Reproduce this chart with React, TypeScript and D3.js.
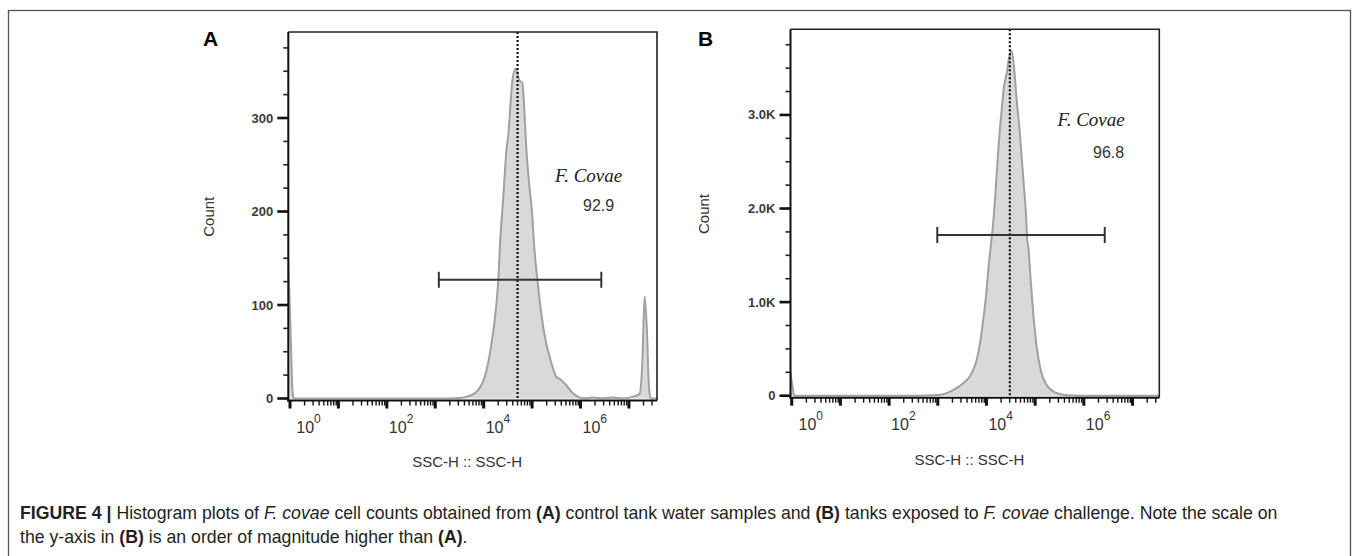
import React, { useLayoutEffect, useRef, useState } from 'react';
import * as d3 from 'd3';

// ---------- DATA ----------
// Panel A (control tank) : SSC-H value and event count
const sscA = [0.92, 1.05, 1.12, 1.2, 1000, 2950, 5180, 7690, 10540, 12360, 14490, 16940, 18920, 19950, 22130, 25180, 29580, 32510, 36310, 39360, 46030, 53830, 63240, 67300, 76380, 89330, 101600, 108100, 128800, 173800, 250600, 317700, 371500, 472100, 699800, 1125000, 1807000, 2884000, 4677000, 7516000, 13120000, 16630000, 18880000, 21090000, 23550000, 25880000, 28050000, 38000000];
const countA = [150, 55, 10, 0, 0, 0.3, 3, 9, 23, 38, 59, 84, 109, 125, 172, 212, 266, 284, 319, 341, 353, 341, 337, 319, 266, 223, 194, 170, 127, 73, 38, 23, 21, 16, 5.6, 0.3, 1, 0.3, 1, 0, 2.5, 5, 38, 109, 73, 13, 0, 0];

// Panel B (F. covae challenge)
const sscB = [0.944, 1.05, 1.12, 398, 813, 1297, 2080, 3342, 4966, 6295, 7362, 8590, 9772, 10890, 12190, 13490, 14960, 17460, 20510, 22860, 26000, 29380, 32890, 36730, 41690, 47210, 52840, 58880, 64710, 68870, 72280, 80910, 91410, 107400, 129700, 172200, 255300, 443600, 794000, 35000000];
const countB = [250, 80, 0, 0, 5, 15, 61, 132, 239, 381, 560, 809, 1058, 1343, 1592, 1800, 2091, 2625, 3052, 3301, 3444, 3622, 3686, 3515, 3159, 2874, 2553, 2233, 1949, 1663, 1592, 1236, 880, 524, 275, 114, 36, 5, 0, 0];

const yTicksA = [0, 100, 200, 300];
const yTickLabelsA = ['0', '100', '200', '300'];
const yTicksB = [0, 1000, 2000, 3000];
const yTickLabelsB = ['0', '1.0K', '2.0K', '3.0K'];

const gateA = { lo: 1186, hi: 2690000, level: 127 };
const gateB = { lo: 977, hi: 2690000, level: 1717 };
const medianA = 50100;
const medianB = 30200;
const populationName = 'F. Covae';
const percentA = '92.9';
const percentB = '96.8';
const xAxisTitle = 'SSC-H :: SSC-H';
const yAxisTitle = 'Count';

// ---------- PANEL ----------
type Cfg = {
  letter: string; letterX: number; letterY: number;
  left: number; right: number; top: number; zeroY: number;
  xDomain: [number, number]; yMax: number; minorStep: number;
  yTicks: number[]; yTickLabels: string[];
  ssc: number[]; counts: number[];
  gate: { lo: number; hi: number; level: number };
  median: number; pct: string;
  nameX: number; nameY: number; pctX: number; pctY: number;
  countX: number; xTitleY: number; xTickLabelY: number;
};

function Panel({ c }: { c: Cfg }) {
  const x = d3.scaleLog().domain(c.xDomain).range([c.left, c.right]);
  const y = d3.scaleLinear().domain([0, c.yMax]).range([c.zeroY, c.top]);
  const axisY = c.zeroY + 2;
  const idx = d3.range(c.ssc.length);
  const area = d3.area<number>()
    .x((i) => x(c.ssc[i]))
    .y0(c.zeroY)
    .y1((i) => y(c.counts[i]))
    .curve(d3.curveMonotoneX);
  const line = d3.line<number>()
    .x((i) => x(c.ssc[i]))
    .y((i) => y(c.counts[i]))
    .curve(d3.curveMonotoneX);
  const clipId = 'clip' + c.letter;
  const xt = x.ticks();
  const isMajor = (v: number) => Math.abs(Math.log10(v) - Math.round(Math.log10(v))) < 1e-6;
  const minorY = d3.range(0, c.yMax, c.minorStep);
  const gx0 = x(c.gate.lo), gx1 = x(c.gate.hi), gy = y(c.gate.level);
  const mx = x(c.median);
  return (
    <g>
      <defs>
        <clipPath id={clipId}>
          <rect x={c.left} y={c.top} width={c.right - c.left} height={c.zeroY - c.top + 1} />
        </clipPath>
      </defs>
      <text x={c.letterX} y={c.letterY} fontFamily="Liberation Sans, Arial, sans-serif" fontWeight="bold" fontSize={21} fill="#000">{c.letter}</text>
      <g clipPath={`url(#${clipId})`}>
        <path d={area(idx) || ''} fill="#d9d9d9" stroke="none" />
        <path d={line(idx) || ''} fill="none" stroke="#a0a0a0" strokeWidth={2} strokeLinejoin="round" />
      </g>
      <line x1={mx} x2={mx} y1={c.top} y2={c.zeroY} stroke="#111" strokeWidth={2.2} strokeDasharray="2,2" />
      <g stroke="#333" strokeWidth={2}>
        <line x1={gx0} x2={gx1} y1={gy} y2={gy} />
        <line x1={gx0} x2={gx0} y1={gy - 8} y2={gy + 8} />
        <line x1={gx1} x2={gx1} y1={gy - 8} y2={gy + 8} />
      </g>
      {/* frame */}
      <path d={`M${c.left},${c.top}H${c.right}V${axisY}`} fill="none" stroke="#222" strokeWidth={1.6} />
      <line x1={c.left} x2={c.left} y1={c.top} y2={axisY + 1} stroke="#111" strokeWidth={2} />
      <line x1={c.left - 1} x2={c.right} y1={axisY} y2={axisY} stroke="#111" strokeWidth={2} />
      {/* y ticks */}
      {minorY.map((v) => (
        <line key={'ym' + v} x1={c.left - 5} x2={c.left} y1={y(v)} y2={y(v)} stroke="#222" strokeWidth={1.6} />
      ))}
      {c.yTicks.map((v, i) => (
        <g key={'yM' + v}>
          <line x1={c.left - 11} x2={c.left} y1={y(v)} y2={y(v)} stroke="#111" strokeWidth={2.6} />
          <text x={c.left - 15} y={y(v)} dy="0.35em" textAnchor="end" fontFamily="Liberation Sans, Arial, sans-serif" fontWeight="bold" fontSize={13} fill="#3a3a3a">{c.yTickLabels[i]}</text>
        </g>
      ))}
      {/* x ticks */}
      {xt.map((v) => {
        const major = isMajor(v);
        return (
          <line key={'x' + v} x1={x(v)} x2={x(v)} y1={axisY} y2={axisY + (major ? 8 : 5)} stroke="#111" strokeWidth={major ? 3 : 1.4} />
        );
      })}
      {xt.filter((v) => isMajor(v) && Math.round(Math.log10(v)) % 2 === 0).map((v) => (
        <text key={'xl' + v} x={Math.max(x(v) + 2, c.left + 8)} y={c.xTickLabelY} fontFamily="Liberation Sans, Arial, sans-serif" fontSize={16} fill="#333">
          10<tspan dy={-10} fontSize={12}>{Math.round(Math.log10(v))}</tspan>
        </text>
      ))}
      <text x={(c.left + c.right) / 2 - 5.5} y={c.xTitleY} textAnchor="middle" fontFamily="Liberation Sans, Arial, sans-serif" fontSize={15} fill="#333">{xAxisTitle}</text>
      <text transform={`translate(${c.countX},${(c.top + c.zeroY) / 2 + 1.5}) rotate(-90)`} textAnchor="middle" dy="0.35em" fontFamily="Liberation Sans, Arial, sans-serif" fontSize={15} fill="#333">{yAxisTitle}</text>
      <text x={c.nameX} y={c.nameY} fontFamily="Liberation Serif, Times New Roman, serif" fontStyle="italic" fontSize={19} fill="#222">{populationName}</text>
      <text x={c.pctX} y={c.pctY} fontFamily="Liberation Sans, Arial, sans-serif" fontSize={16} fill="#333">{c.pct}</text>
    </g>
  );
}

const cfgA: Cfg = {
  letter: 'A', letterX: 203, letterY: 46,
  left: 288.3, right: 657, top: 32, zeroY: 398.5,
  xDomain: [Math.pow(10, -0.035), Math.pow(10, 7.58)], yMax: 392, minorStep: 25,
  yTicks: yTicksA, yTickLabels: yTickLabelsA,
  ssc: sscA, counts: countA, gate: gateA, median: medianA, pct: percentA,
  nameX: 555, nameY: 182, pctX: 583, pctY: 211,
  countX: 209, xTitleY: 467, xTickLabelY: 433,
};
const cfgB: Cfg = {
  letter: 'B', letterX: 698, letterY: 46,
  left: 790.5, right: 1159.3, top: 29.3, zeroY: 395.7,
  xDomain: [Math.pow(10, -0.025), Math.pow(10, 7.55)], yMax: 3915, minorStep: 250,
  yTicks: yTicksB, yTickLabels: yTickLabelsB,
  ssc: sscB, counts: countB, gate: gateB, median: medianB, pct: percentB,
  nameX: 1057.5, nameY: 126, pctX: 1093, pctY: 157.5,
  countX: 704, xTitleY: 465, xTickLabelY: 429.5,
};

function Caption() {
  const ref = useRef<SVGTextElement>(null);
  const [k, setK] = useState(1);
  useLayoutEffect(() => {
    if (ref.current) {
      const len = ref.current.getComputedTextLength();
      if (len > 0) setK(1258 / len);
    }
  }, []);
  const ff = 'Liberation Sans Narrow, Liberation Sans, Arial, sans-serif';
  return (
    <g transform={`translate(20,0) scale(${k},1)`} fontFamily={ff} fontSize={18} fill="#231f20" style={{ whiteSpace: 'pre' }}>
      <text ref={ref} x={0} y={519}>
        <tspan fontWeight="bold">FIGURE 4 | </tspan>
        <tspan>Histogram plots of </tspan>
        <tspan fontStyle="italic">F. covae</tspan>
        <tspan> cell counts obtained from </tspan>
        <tspan fontWeight="bold">(A)</tspan>
        <tspan> control tank water samples and </tspan>
        <tspan fontWeight="bold">(B)</tspan>
        <tspan> tanks exposed to </tspan>
        <tspan fontStyle="italic">F. covae</tspan>
        <tspan> challenge. Note the scale on</tspan>
      </text>
      <text x={0} y={543}>
        <tspan>the y-axis in </tspan>
        <tspan fontWeight="bold">(B)</tspan>
        <tspan> is an order of magnitude higher than </tspan>
        <tspan fontWeight="bold">(A)</tspan>
        <tspan>.</tspan>
      </text>
    </g>
  );
}

export default function App() {
  return (
    <svg width={1356} height={556} style={{ position: 'absolute', left: 0, top: 0, background: '#fff' }}>
      <rect x={0} y={0} width={1356} height={556} fill="#fff" />
      <rect x={8.5} y={10.5} width={1342} height={600} fill="none" stroke="#555" strokeWidth={1.3} />
      <Panel c={cfgA} />
      <Panel c={cfgB} />
      <Caption />
    </svg>
  );
}
